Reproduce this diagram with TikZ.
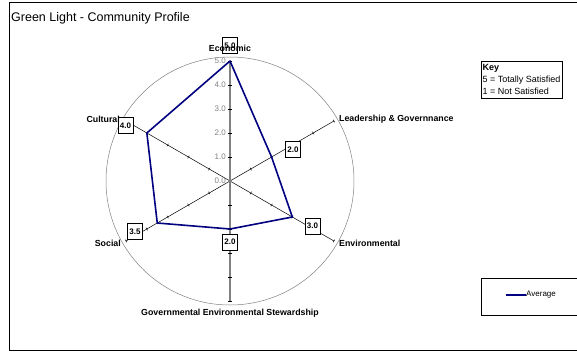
\documentclass[tikz,border=0pt]{standalone}
\usepackage{fontspec}
\setmainfont{Liberation Sans}
\definecolor{avgblue}{RGB}{0,0,128}
\tikzset{
  spoke/.style={black, line width=0.5pt},
  valaxis/.style={gray, line width=1.6pt},
  vallabel/.style={anchor=east, text=gray, inner sep=1pt, font=\fontsize{8}{9}\selectfont},
  catlabel/.style={inner sep=1pt, font=\bfseries\fontsize{8.8}{10}\selectfont},
  valbox/.style={draw, fill=white, inner sep=1pt, minimum width=15pt, minimum height=16pt, font=\bfseries\fontsize{8}{9}\selectfont},
  avgline/.style={avgblue, line width=1.6pt, line join=round},
}
\begin{document}
\begin{tikzpicture}[x=1pt,y=1pt]
\useasboundingbox (-230,-181) rectangle (347,181);
\clip (-230,-181) rectangle (347,181);
% outer frame and title
\draw[line width=0.7pt] (-221,179) rectangle (352,-169);
\node[anchor=west, inner sep=0pt, font=\fontsize{12.5}{14}\selectfont] (title) at (-219,163) {Green Light - Community Profile};

% radar grid
\coordinate (O) at (0,0);
\draw[gray, line width=0.5pt] (O) circle (124);
\foreach \name/\ang in {lead/30, env/-30, soc/-150, cul/150} {
  \coordinate (\name end) at (\ang:120);
  \draw[spoke] (O) -- (\name end);
  \foreach \k in {1,...,5}
    \draw[spoke, rotate=\ang] (24*\k,-1.5) -- (24*\k,1.5);
}
\coordinate (ecoend) at (90:120);
\coordinate (govend) at (-90:120);
\draw[valaxis] (govend) -- (ecoend);
\foreach \k in {-5,...,-1,1,2,3,4,5}
  \draw[line width=0.6pt] (-2,24*\k) -- (2,24*\k);
\foreach \k in {0,...,5}
  \node[vallabel] (v\k) at (-3,24*\k) {\k.0};

% data
\coordinate (peco) at (90:120);
\coordinate (plead) at (30:48);
\coordinate (penv) at (-30:72);
\coordinate (pgov) at (-90:48);
\coordinate (psoc) at (-150:84);
\coordinate (pcul) at (150:96);
\draw[avgline] (peco) -- (plead) -- (penv) -- (pgov) -- (psoc) -- (pcul) -- cycle;

% value boxes
\node[valbox] (beco) at (0,135.5) {5.0};
\node[valbox] (blead) at (63,31.5) {2.0};
\node[valbox] (benv) at (82.5,-45) {3.0};
\node[valbox] (bgov) at (0,-61) {2.0};
\node[valbox] (bsoc) at (-95,-50.5) {3.5};
\node[valbox] (bcul) at (-104.5,55.5) {4.0};

% category labels
\node[catlabel] (leco) at (0,133) {Economic};
\node[catlabel, anchor=west] (llead) at (108,62) {Leadership \& Governnance};
\node[catlabel, anchor=west] (lenv) at (108,-62) {Environmental};
\node[catlabel] (lgov) at (0,-132) {Governmental Environmental Stewardship};
\node[catlabel, anchor=east] (lsoc) at (-108,-62) {Social};
\node[catlabel, anchor=east] (lcul) at (-109,62) {Cultural};

% key
\node[draw, anchor=north west, align=left, inner xsep=1.5pt,
      minimum height=37pt, font=\fontsize{9}{12}\selectfont] (key) at (251,120)
  {\textbf{Key}\\5 = Totally Satisfied\\1 = Not Satisfied};

% legend
\node[draw, anchor=north west, minimum width=100pt, minimum height=37pt] (legend) at (251,-97) {};
\coordinate (lgA) at (276,-114);
\node[anchor=west, inner sep=0pt, font=\fontsize{8}{9}\selectfont] (lgtext) at (296,-114) {Average};
\draw[avgline, line cap=butt] (lgA) -- (lgtext.west);
\end{tikzpicture}
\end{document}
